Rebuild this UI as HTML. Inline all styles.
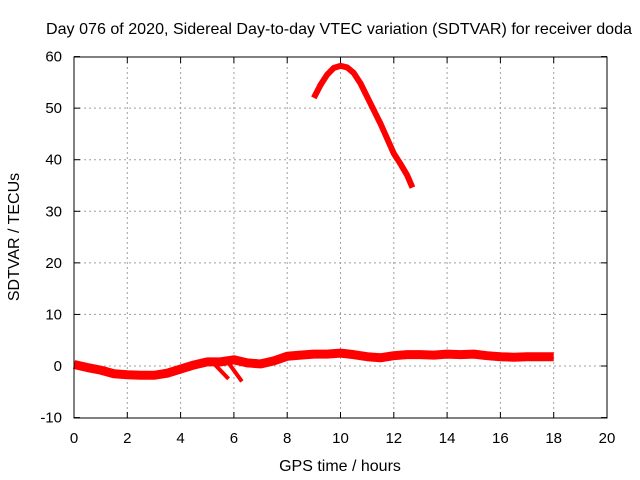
<!DOCTYPE html>
<html><head><meta charset="utf-8"><style>
body{margin:0;background:#fff}
svg{display:block;font-family:"Liberation Sans",sans-serif}
</style></head><body>
<svg id="c" width="640" height="480">
<text x="339" y="34" font-size="16" text-anchor="middle" textLength="586" lengthAdjust="spacingAndGlyphs">Day 076 of 2020, Sidereal Day-to-day VTEC variation (SDTVAR) for receiver doda</text>
<text x="340" y="471" font-size="16" text-anchor="middle">GPS time / hours</text>
<text x="19" y="237" font-size="16" text-anchor="middle" transform="rotate(-90 19 237)">SDTVAR / TECUs</text>
<g id="grid"></g><g id="marks"></g>
<rect x="74" y="57" width="533" height="361" fill="none" stroke="#000" stroke-width="1"/>
</svg>
<script>
const xTicks=[0,2,4,6,8,10,12,14,16,18,20];
const yTicks=[-10,0,10,20,30,40,50,60];
const lowHours=[0,0.5,1,1.5,2,2.5,3,3.5,4,4.5,5,5.5,6,6.5,7,7.5,8,8.5,9,9.5,10,10.5,11,11.5,12,12.5,13,13.5,14,14.5,15,15.5,16,16.5,17,17.5,18];
const lowVals=[0.3,-0.3,-0.8,-1.5,-1.7,-1.8,-1.8,-1.4,-0.6,0.2,0.8,0.8,1.2,0.6,0.4,1.0,1.9,2.1,2.3,2.3,2.5,2.2,1.8,1.6,2.0,2.2,2.2,2.1,2.3,2.2,2.3,2.0,1.8,1.7,1.8,1.8,1.8];
const branch1Hours=[5.3,5.8];const branch1Vals=[0.2,-2.5];
const branch2Hours=[5.8,6.3];const branch2Vals=[0.6,-3.0];
const highHours=[9,9.25,9.5,9.75,10,10.25,10.5,10.75,11,11.5,12,12.25,12.5,12.7];
const highVals=[52,54.5,56.5,57.8,58.2,57.9,56.8,54.8,52.2,47,41.2,39.2,37,34.6];
const X=h=>74+h*(533/20), Y=v=>366-v*(361/70);
const ns="http://www.w3.org/2000/svg";
const grid=document.getElementById('grid'),marks=document.getElementById('marks');
function el(t,a,p){const e=document.createElementNS(ns,t);for(const k in a)e.setAttribute(k,a[k]);p.appendChild(e);return e;}
xTicks.forEach(t=>{
 if(t>0&&t<20){const g=el('line',{x1:X(t),x2:X(t),y1:57,y2:418,stroke:'#a0a0a0','stroke-dasharray':'2,3'},grid);
 
 }
 const k=el('line',{x1:X(t),x2:X(t),y1:418,y2:412,stroke:'#000'},grid);
 
 
 const k2=el('line',{x1:X(t),x2:X(t),y1:57,y2:63,stroke:'#000'},grid);
 
 
 const l=el('text',{x:X(t),y:443,'font-size':15,'text-anchor':'middle'},grid);l.textContent=t;
 
 
});
yTicks.forEach(t=>{
 if(t>-10&&t<60){const g=el('line',{x1:74,x2:607,y1:Y(t),y2:Y(t),stroke:'#a0a0a0','stroke-dasharray':'2,3'},grid);
 
 }
 const k=el('line',{x1:74,x2:80,y1:Y(t),y2:Y(t),stroke:'#000'},grid);
 
 
 const k2=el('line',{x1:601,x2:607,y1:Y(t),y2:Y(t),stroke:'#000'},grid);
 
 
 const l=el('text',{x:62,y:Y(t)+5,'font-size':15,'text-anchor':'end'},grid);l.textContent=t;
 
 
});
function series(hs,vs,w,name){
 const p=el('polyline',{points:hs.map((h,i)=>X(h)+','+Y(vs[i])).join(' '),fill:'none',stroke:'#ff0000','stroke-width':w,'stroke-linejoin':'round'},marks);
 
 
}
series(lowHours,lowVals,9,'sdtvar-low-series');
series(branch1Hours,branch1Vals,4,'sdtvar-branch-1');
series(branch2Hours,branch2Vals,4,'sdtvar-branch-2');
series(highHours,highVals,6,'sdtvar-high-arc');
</script>
</body></html>
